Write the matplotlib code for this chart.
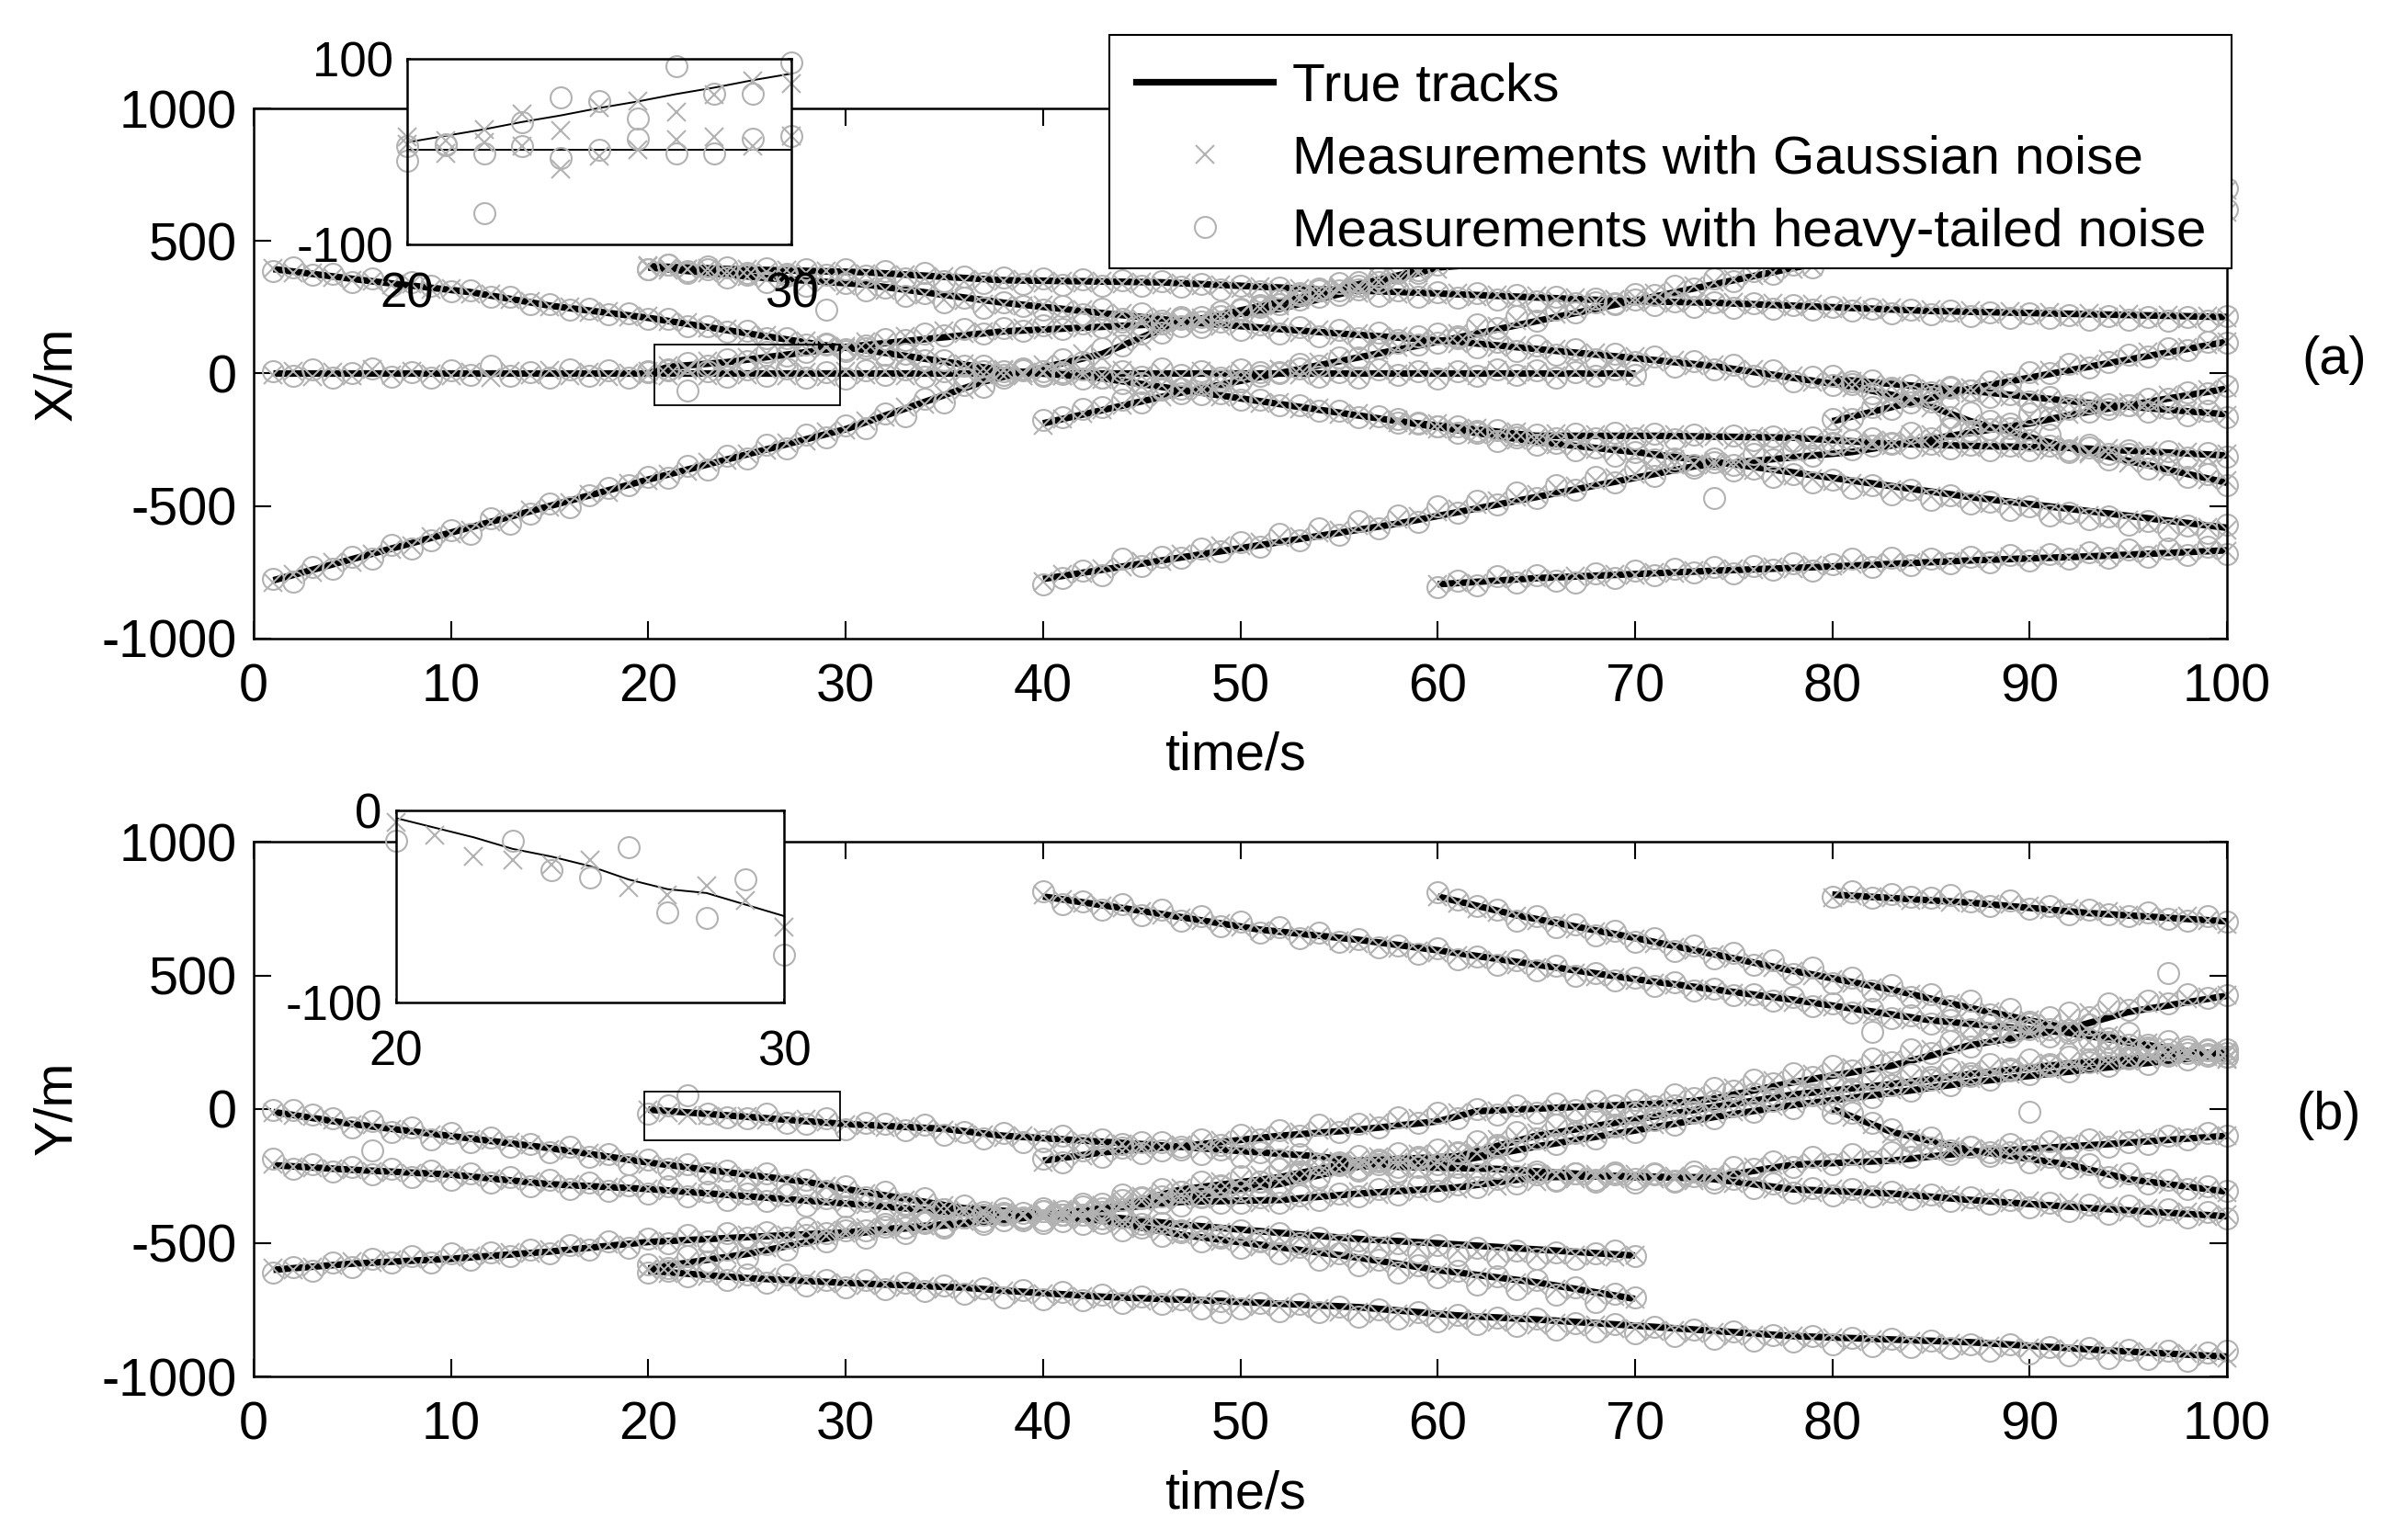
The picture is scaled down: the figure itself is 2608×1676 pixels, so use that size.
import matplotlib
matplotlib.use("Agg")
import matplotlib.pyplot as plt
from matplotlib.lines import Line2D
from matplotlib.patches import Rectangle

# ---- panel (a) true tracks, knots
xt_a = [1,6,11,15,20,23,26,29,31,38,43,48,53,58,65,71,78,83,87,92,100]
xv_a = [394,348,307,256,210,175,140,106,89,12,-18,-72,-126,-180,-235,-235,-242,-265,-273,-280,-309]
xt_b = [1,70]
xv_b = [0,0]
xt_c = [1,10,20,30,37,43,47,52,57,60,100]
xv_c = [-780,-600,-400,-210,-30,74,198,244,336,400,620]
xt_r = [20,24,31,38,46,53,59,69,74,85,100]
xv_r = [405,394,382,352,344,321,305,275,267,236,213]
xt_s = [20,26,31,38,43,48,55,61,70,74,81,84,87,92,100]
xv_s = [400,360,336,267,228,190,151,120,58,28,-49,-96,-180,-280,-412]
xt_u = [20,21,24,27,30,38,47,52,58,62]
xv_u = [0,25,43,71,100,159,190,270,370,440]
xt_p = [40,47,60,70,78,100]
xv_p = [-188,-72,120,275,398,700]
xt_d = [40,50,58,65,73,81,86,90,92,100]
xv_d = [-775,-659,-566,-466,-350,-296,-235,-188,-157,-57]
xt_e = [60,65,74,80,87,93,100]
xv_e = [-795,-772,-744,-728,-705,-690,-667]
xt_f = [80,83,87,92,100]
xv_f = [-180,-127,-57,12,120]
xt_z = [80,87,94,100]
xv_z = [-20,-65,-119,-154]
xt_w = [58,65,70,75,81,87,94,100]
xv_w = [-180,-258,-296,-342,-404,-466,-528,-582]

# ---- panel (a) measurements, one value per second
xg_a = [396,380,381,362,352,350,336,338,318,320,300,300,278,272,250,250,232,234,214,216,195,192,170,168,148,145,122,122,100,102,85,82,62,60,40,38,18,16,2,5,-10,-6,-24,-25,-46,-44,-66,-66,-90,-88,-112,-108,-132,-130,-155,-152,-175,-174,-195,-190,-210,-206,-226,-220,-242,-228,-240,-230,-242,-228,-240,-232,-246,-236,-250,-238,-246,-240,-258,-246,-268,-256,-272,-262,-278,-266,-280,-270,-284,-274,-288,-278,-296,-284,-300,-292,-312,-298,-318,-305]
xh_a = [388,402,372,375,345,358,332,345,330,310,312,290,290,262,262,240,245,222,228,205,205,180,180,158,160,132,135,110,112,92,95,70,74,50,50,28,30,8,12,-4,-2,-20,-14,-35,-35,-55,-56,-78,-76,-100,-98,-120,-120,-142,-142,-165,-162,-186,-184,-200,-198,-216,-214,-232,-230,-244,-226,-246,-225,-244,-228,-248,-232,-470,-235,-252,-236,-255,-240,-262,-250,-272,-260,-280,-265,-284,-268,-290,-272,-288,-272,-298,-278,-305,-288,-312,-292,-318,-300,-312]
xg_b = [-5,8,-12,4,-8,15,-6,10,-3,-9,5,-14,8,-4,11,-8,6,-12,3,9,-7,12,-10,5,-6,14,-9,4,-11,7,-5,10,-8,6,-13,9,-4,12,-7,3,-10,8,-6,13,-9,5,-12,7,-4,10,-8,14,-5,-10,6,-7,11,-3,9,-12,5,-8,13,-6,4,-10,8,-5,10,-7]
xh_b = [8,-10,14,-14,2,18,-12,6,-16,12,-4,30,-10,4,-14,16,-8,12,-15,6,14,-65,10,-12,16,-8,20,-14,6,-18,12,-4,15,-12,8,-16,10,-6,18,-10,4,14,-15,8,-12,20,-6,10,-16,14,-8,6,18,-12,4,-14,16,-6,10,-18,8,-10,14,-4,12,-15,6,-8,16,-5]
xg_c = [-790,-758,-750,-712,-712,-680,-665,-650,-615,-605,-590,-560,-548,-515,-505,-488,-455,-448,-415,-405,-378,-370,-335,-328,-302,-290,-262,-255,-220,-212,-180,-165,-125,-115,-78,-62,-35,-8,0,32,38,75,62,120,122,160,190,210,205,225,245,255,280,292,325,320,345,350,380,395]
xh_c = [-775,-785,-730,-735,-690,-700,-645,-660,-630,-590,-605,-545,-565,-530,-490,-505,-460,-430,-420,-390,-395,-350,-362,-310,-320,-270,-282,-232,-240,-195,-205,-150,-160,-95,-110,-45,-50,-15,15,10,55,45,95,105,150,155,205,195,235,240,258,262,295,290,340,330,362,385,390,410]
xg_r = [408,400,392,398,388,395,382,390,378,388,380,376,368,372,360,364,350,356,348,354,342,350,340,348,338,344,336,340,330,334,322,328,314,322,312,318,304,310,300,308,296,302,290,298,284,292,278,286,272,280,270,276,264,272,262,268,258,264,252,260,246,254,240,248,232,242,228,238,224,234,220,230,214,226,212,222,208,220,206,216,210]
xh_r = [395,412,385,405,400,380,398,375,395,372,392,368,385,360,378,348,365,340,362,338,358,334,355,332,352,330,348,326,338,318,332,310,325,305,322,298,316,294,314,290,308,286,302,278,298,272,290,265,284,262,278,258,272,250,270,248,264,244,258,240,252,236,246,228,240,222,236,218,232,210,226,208,220,204,218,202,214,200,212,198,215]
xg_s = [405,390,392,378,370,366,355,358,340,345,330,328,312,300,298,280,276,262,258,256,258,238,240,222,226,206,212,190,196,178,186,166,175,155,163,145,152,136,142,124,132,114,120,100,105,88,92,72,78,58,64,42,50,28,34,10,14,-10,-8,-32,-30,-55,-58,-88,-90,-130,-145,-188,-192,-228,-232,-268,-272,-305,-305,-338,-338,-370,-372,-402,-405]
xh_s = [395,410,378,395,362,372,345,368,330,240,340,312,325,292,305,270,285,248,268,255,240,255,225,245,205,228,190,212,175,195,165,185,150,175,142,165,135,155,125,142,115,135,100,120,85,105,70,92,55,75,45,65,25,48,15,32,-10,12,-30,-12,-45,-30,-75,-62,-110,-90,-165,-148,-210,-190,-250,-230,-290,-270,-325,-305,-360,-340,-390,-380,-420]
xg_u = [-5,28,20,48,35,62,75,60,92,105,95,120,118,140,135,162,150,158,160,170,165,178,172,186,178,192,180,198,200,225,228,262,262,292,298,330,332,362,365,392]
xh_u = [10,12,40,30,55,48,82,68,80,110,85,105,130,125,150,145,168,150,172,160,182,168,190,175,195,182,200,180,212,215,245,250,278,278,312,312,345,345,378,378]
xg_p = [-195,-170,-150,-138,-118,-100,-88,-65,-55,-38,-20,-10,15,20,45,52,75,88,100,125,135,152,170,180,200,208,225,240,255,280,285,305,315,330,345,355,370,380,395,405]
xh_p = [-175,-165,-135,-125,-100,-110,-62,-75,-40,-25,-30,5,0,35,30,60,62,95,115,110,150,140,185,170,215,200,240,230,268,265,300,295,330,320,360,350,385,375,410,400]
xg_d = [-785,-758,-755,-735,-728,-710,-708,-680,-678,-650,-650,-635,-620,-615,-600,-590,-575,-570,-550,-540,-520,-510,-495,-480,-465,-455,-432,-425,-405,-395,-378,-365,-345,-345,-330,-335,-312,-318,-298,-300,-280,-268,-265,-250,-232,-232,-212,-210,-195,-195,-165,-150,-155,-130,-125,-108,-105,-82,-78,-60,-55]
xh_d = [-795,-770,-745,-760,-700,-725,-690,-695,-660,-670,-635,-655,-605,-630,-585,-610,-555,-585,-535,-560,-500,-525,-480,-495,-450,-470,-420,-440,-390,-410,-360,-385,-335,-345,-320,-345,-305,-325,-285,-310,-265,-285,-245,-265,-225,-245,-205,-218,-180,-205,-150,-172,-135,-145,-115,-120,-95,-95,-70,-75,-48]
xg_e = [-795,-790,-792,-775,-775,-770,-775,-765,-768,-758,-760,-750,-755,-742,-745,-735,-740,-728,-735,-722,-725,-720,-715,-712,-712,-705,-708,-698,-705,-692,-698,-688,-695,-682,-690,-678,-682,-672,-678,-668,-672]
xh_e = [-805,-780,-800,-765,-790,-760,-780,-790,-755,-770,-745,-760,-735,-750,-730,-755,-725,-740,-715,-745,-720,-700,-730,-695,-722,-700,-715,-690,-712,-685,-705,-680,-700,-675,-695,-665,-690,-660,-685,-655,-680]
xg_f = [-185,-160,-140,-120,-100,-82,-70,-55,-45,-25,-10,12,28,35,55,62,80,85,100,110,120]
xh_f = [-170,-170,-125,-135,-85,-105,-50,-65,-30,-40,5,0,38,22,42,70,65,95,90,120,115]
xg_z = [-25,-30,-40,-48,-52,-58,-62,-75,-80,-88,-95,-100,-112,-115,-122,-125,-135,-138,-145,-150,-158]
xh_z = [-10,-40,-25,-55,-45,-72,-55,-65,-90,-78,-105,-90,-120,-108,-132,-120,-145,-130,-158,-142,-165]
xg_w = [-185,-195,-210,-215,-232,-240,-250,-258,-268,-275,-285,-298,-305,-312,-325,-340,-345,-352,-365,-378,-385,-398,-408,-415,-428,-440,-445,-462,-468,-475,-490,-500,-505,-520,-530,-535,-545,-552,-565,-570,-578,-580,-590]
xh_w = [-170,-190,-200,-225,-225,-255,-240,-270,-260,-290,-280,-310,-295,-325,-320,-355,-335,-365,-360,-390,-380,-410,-400,-430,-420,-455,-440,-475,-460,-490,-485,-515,-500,-535,-525,-550,-540,-570,-555,-590,-575,-600,-570]
# the two tracks that run behind the legend only show again at t=100
xg_tail = [690,610]
xh_tail = [700,620]

# ---- panel (b) true tracks
yt_a = [80,87,93,100]
yv_a = [802,772,733,702]
yt_b = [40,45,51,56,60,65,70,78,85,92,100]
yv_b = [795,741,671,633,594,540,486,409,332,285,190]
yt_c = [60,64,70,74,78,83,87,92,96,100]
yv_c = [795,725,640,579,517,447,378,301,239,193]
yt_d = [40,43,47,52,56,60,62,67,72,74,78,83,87,92,95,100]
yv_d = [-193,-162,-139,-100,-77,-46,-8,8,23,39,100,162,239,301,363,424]
yt_e = [20,25,30,35,38,45,51,54,58,63,70,74,78,83,87,94,100]
yv_e = [-2,-29,-56,-74,-100,-131,-162,-177,-216,-224,-255,-255,-208,-193,-162,-131,-100]
yt_f = [1,5,10,15,20,25,30,33,36,38,43,47,52,56,61,65,70,74,78,83,87,92,100]
yv_f = [-601,-578,-560,-533,-497,-479,-461,-443,-425,-405,-378,-301,-255,-193,-177,-100,-39,8,54,93,131,170,216]
yt_g = [40,47,52,56,61,65,70,74,78,83,87,92,100]
yv_g = [-400,-330,-280,-215,-195,-140,-80,-30,15,60,100,140,205]
yt_h = [20,25,30,32,36,40,47,52,56,61,65,70,74,78,83,87,93,100]
yv_h = [-596,-542,-470,-452,-430,-400,-347,-340,-316,-293,-255,-250,-262,-300,-316,-340,-370,-401]
yt_i = [80,83,87,92,95,100]
yv_i = [0,-85,-154,-208,-262,-309]
yt_j = [20,25,30,36,38,43,49,56,61,65,70,78,87,94,100]
yv_j = [-605,-632,-650,-668,-679,-702,-718,-741,-772,-787,-810,-849,-872,-903,-926]
yt_k = [1,5,10,15,20,25,28,30,33,36,40,43,47,52,56,60,65,70]
yv_k = [-11,-56,-101,-146,-200,-245,-272,-299,-335,-371,-390,-401,-432,-463,-486,-502,-525,-548]
yt_l = [1,5,10,15,20,25,30,36,40,43,47,52,56,60,65,70]
yv_l = [-210,-227,-245,-281,-299,-326,-353,-389,-400,-417,-470,-517,-556,-602,-648,-710]

# ---- panel (b) measurements
yg_a = [790,798,795,790,780,785,772,770,768,765,758,745,748,740,738,725,722,715,720,705,690]
yh_a = [795,815,790,805,795,790,800,775,760,780,750,760,730,745,730,720,735,710,705,720,700]
yg_b = [800,785,770,760,752,738,725,715,705,695,680,665,665,650,645,630,620,612,600,590,585,575,560,555,540,530,525,510,495,490,480,470,465,450,445,432,420,410,400,392,380,368,355,345,335,328,318,308,305,295,285,275,258,250,232,228,215,205,205,195,185]
yh_b = [815,765,775,745,765,725,745,705,720,685,700,660,680,640,660,625,635,605,610,580,600,560,570,540,555,520,535,500,510,480,490,460,475,445,450,425,430,405,420,385,395,360,375,340,350,320,335,300,320,290,300,270,285,262,250,240,230,225,225,200,210]
yg_c = [795,770,750,735,722,705,695,675,662,650,635,620,605,595,578,562,550,530,515,500,485,470,455,440,428,410,395,380,365,350,335,320,305,290,275,262,248,235,220,205,190]
yh_c = [810,785,760,745,705,720,680,690,650,665,625,640,590,610,565,585,540,555,505,530,470,490,445,465,420,430,385,405,355,375,325,345,295,315,265,285,240,255,210,225,195]
yg_d = [-200,-185,-175,-165,-158,-148,-142,-135,-125,-118,-110,-100,-95,-85,-78,-70,-62,-52,-42,-35,-25,-15,-10,-8,-2,-5,5,0,12,8,18,25,35,48,62,78,92,105,118,130,142,155,172,185,205,222,240,252,268,285,300,318,340,362,372,385,395,405,412,420,425]
yh_d = [-185,-200,-155,-180,-130,-165,-125,-150,-115,-135,-95,-115,-80,-100,-60,-85,-55,-70,-30,-50,-15,-35,0,-22,15,-15,20,-5,30,15,35,10,55,40,80,70,110,95,135,120,160,145,190,175,225,210,255,235,285,270,320,300,360,345,395,370,405,395,430,415,425]
yg_e = [-5,-13,-24,-25,-28,-26,-40,-44,-39,-47,-60,-62,-68,-65,-72,-78,-88,-95,-105,-100,-108,-112,-120,-125,-130,-135,-142,-138,-150,-155,-160,-165,-172,-178,-182,-195,-205,-215,-218,-222,-218,-225,-228,-232,-238,-240,-248,-252,-255,-250,-258,-255,-262,-258,-245,-232,-218,-210,-205,-200,-195,-190,-182,-175,-165,-158,-155,-150,-148,-142,-140,-135,-130,-125,-118,-112,-110,-105,-102,-100,-98]
yh_e = [-16,15,50,-16,-31,-35,-18,-53,-56,-36,-75,-50,-55,-80,-60,-95,-85,-110,-90,-125,-120,-100,-135,-115,-145,-125,-155,-140,-170,-150,-180,-160,-190,-170,-205,-200,-225,-205,-235,-215,-240,-215,-245,-220,-250,-235,-265,-240,-270,-245,-275,-240,-270,-235,-260,-215,-225,-195,-215,-180,-205,-170,-195,-160,-180,-145,-170,-140,-160,-130,-155,-120,-145,-115,-140,-125,-130,-100,-115,-90,-100]
yg_f = [-595,-600,-590,-585,-570,-575,-565,-560,-565,-552,-550,-545,-535,-540,-525,-520,-515,-505,-510,-490,-495,-480,-490,-475,-470,-468,-470,-455,-455,-450,-445,-440,-432,-435,-420,-418,-410,-395,-400,-388,-380,-378,-360,-335,-325,-310,-295,-282,-270,-262,-248,-240,-225,-215,-195,-190,-180,-182,-170,-165,-150,-135,-115,-100,-90,-75,-65,-50,-35,-25,-12,-2,5,18,28,40,52,62,72,80,92,100,108,118,128,138,145,152,158,165,172,178,188,192,198,205,210,215,212,218]
yh_f = [-610,-590,-605,-575,-590,-560,-575,-550,-575,-540,-565,-535,-550,-525,-540,-510,-525,-495,-520,-485,-500,-470,-495,-465,-480,-460,-480,-445,-465,-440,-455,-430,-445,-420,-435,-405,-420,-390,-410,-380,-395,-365,-370,-320,-335,-300,-310,-270,-285,-250,-270,-225,-240,-205,-210,-175,-195,-165,-185,-150,-165,-120,-140,-85,-110,-60,-85,-35,-60,-15,-30,15,-10,30,15,60,40,75,55,95,75,110,90,130,110,150,125,170,145,185,160,195,175,215,190,225,200,235,205,225]
yg_g = [-405,-390,-378,-370,-360,-345,-332,-322,-315,-305,-295,-285,-270,-260,-240,-222,-215,-205,-200,-198,-192,-178,-165,-155,-138,-125,-115,-105,-92,-80,-70,-58,-48,-32,-22,-12,0,12,22,30,40,52,62,72,85,92,105,112,122,130,140,148,155,165,172,180,185,192,198,202,208]
yh_g = [-415,-380,-395,-355,-375,-330,-350,-310,-330,-290,-305,-270,-290,-235,-255,-205,-230,-190,-215,-180,-205,-160,-180,-135,-155,-110,-130,-90,-110,-65,-85,-40,-60,-15,-35,10,-10,30,5,50,25,70,45,90,70,120,90,135,110,150,130,170,140,185,160,195,170,205,185,220,195]
yg_h = [-600,-585,-570,-555,-548,-530,-520,-500,-490,-475,-465,-458,-450,-445,-438,-425,-420,-410,-405,-395,-385,-375,-368,-360,-350,-345,-342,-340,-338,-332,-335,-350,-332,-342,-320,-330,-310,-318,-300,-310,-290,-300,-275,-290,-258,-270,-245,-262,-245,-260,-243,-262,-250,-268,-255,-280,-270,-300,-292,-312,-298,-318,-305,-325,-315,-335,-322,-348,-335,-352,-345,-368,-352,-378,-365,-385,-372,-395,-385,-402,-395]
yh_h = [-580,-605,-550,-570,-525,-555,-505,-525,-470,-495,-455,-480,-440,-465,-425,-445,-405,-430,-395,-415,-370,-395,-355,-385,-340,-365,-325,-360,-325,-350,-350,-330,-350,-322,-340,-315,-328,-300,-318,-290,-305,-282,-292,-262,-280,-245,-268,-240,-265,-238,-262,-245,-268,-250,-275,-262,-295,-280,-312,-295,-322,-300,-328,-310,-338,-318,-345,-330,-355,-340,-368,-350,-380,-358,-392,-362,-398,-375,-405,-385,-410]
yg_i = [5,-30,-60,-92,-110,-125,-140,-155,-165,-172,-185,-195,-205,-222,-240,-258,-268,-282,-290,-302,-312]
yh_i = [-15,-15,-50,-75,-120,-105,-155,-140,-175,-160,-200,-180,-220,-205,-255,-240,-280,-265,-300,-290,-305]
yg_j = [-598,-615,-610,-625,-620,-635,-628,-645,-640,-652,-650,-660,-655,-668,-662,-672,-672,-685,-680,-695,-690,-702,-700,-712,-708,-718,-712,-725,-720,-735,-730,-740,-738,-745,-745,-760,-758,-768,-768,-780,-775,-790,-785,-798,-795,-808,-802,-815,-808,-822,-820,-832,-828,-840,-835,-848,-845,-852,-850,-860,-855,-868,-862,-875,-870,-880,-875,-888,-885,-892,-895,-902,-898,-908,-905,-912,-908,-918,-915,-925,-930]
yh_j = [-612,-595,-625,-605,-640,-618,-648,-620,-660,-638,-665,-640,-675,-650,-682,-660,-690,-670,-705,-678,-710,-685,-715,-695,-725,-700,-730,-710,-745,-718,-745,-725,-755,-730,-760,-740,-775,-750,-785,-760,-795,-770,-805,-780,-810,-785,-825,-800,-830,-805,-840,-815,-850,-825,-860,-830,-865,-845,-870,-850,-880,-855,-885,-860,-890,-865,-895,-880,-905,-880,-915,-890,-920,-895,-930,-900,-935,-905,-940,-910,-905]
yg_k = [-15,-25,-28,-42,-60,-58,-75,-78,-95,-100,-112,-118,-125,-135,-150,-155,-165,-180,-190,-205,-212,-220,-232,-240,-250,-255,-270,-275,-290,-302,-315,-325,-340,-350,-362,-375,-380,-385,-392,-395,-402,-405,-412,-420,-432,-438,-445,-450,-460,-468,-472,-480,-485,-492,-498,-505,-510,-515,-520,-525,-528,-532,-538,-540,-545,-548,-545,-550,-552,-548]
yh_k = [-5,-2,-22,-35,-70,-45,-85,-70,-115,-90,-125,-105,-140,-130,-160,-140,-180,-170,-205,-190,-225,-205,-240,-230,-265,-240,-285,-265,-305,-290,-330,-310,-355,-335,-375,-360,-395,-370,-405,-380,-420,-395,-425,-405,-445,-425,-460,-440,-475,-455,-490,-465,-500,-480,-510,-490,-520,-500,-535,-510,-545,-520,-555,-530,-560,-535,-560,-540,-530,-550]
yg_l = [-205,-215,-220,-222,-228,-232,-238,-242,-240,-248,-255,-262,-268,-272,-280,-282,-290,-292,-295,-298,-305,-310,-315,-318,-325,-330,-332,-340,-345,-352,-358,-362,-370,-378,-385,-390,-392,-395,-398,-402,-408,-415,-425,-440,-448,-460,-470,-482,-495,-505,-515,-525,-535,-545,-555,-565,-578,-590,-600,-610,-620,-630,-640,-650,-660,-672,-680,-695,-700,-712]
yh_l = [-185,-225,-205,-235,-215,-245,-225,-255,-230,-265,-240,-275,-255,-290,-265,-300,-275,-305,-285,-315,-290,-325,-310,-340,-315,-345,-320,-360,-335,-365,-345,-375,-360,-395,-375,-405,-385,-415,-390,-425,-395,-430,-410,-455,-430,-475,-455,-495,-480,-520,-495,-540,-515,-565,-540,-585,-565,-610,-585,-630,-605,-655,-625,-675,-640,-695,-665,-720,-690,-705]
# stray heavy-tailed points in panel (b)
yo_t = [6,49,82,90,97]
yo_v = [-155,-760,287,-10,510]

# ---- inset (a), t=20..30
ia_t = [20,21,22,23,24,25,26,27,28,29,30]
ia_line1 = [10,17,24,32,39,47,54,62,69,77,84]
ia_line2 = [2,2,2,2,2,2,2,2,2,2,2]
ia_g1 = [16,12,24,41,23,48,54,43,61,76,73]
ia_g2 = [8,-2,10,6,-19,-5,2,13,16,6,17]
ia_h1 = [6,8,-2,32,58,54,36,92,62,62,96]
ia_h2 = [-10,7,-66,6,-7,2,14,-2,-2,14,17]

# ---- inset (b), t=20..30
ib_t = [20,21,22,23,24,25,26,27,28,29,30]
ib_line = [-4,-9,-14,-20,-24,-29,-36,-41,-43,-49,-55]
ib_g = [-6,-13,-24,-26,-28,-26,-40,-44,-39,-47,-61]
ib_ht = [20,23,24,25,26,27,28,29,30]
ib_h = [-16,-16,-31,-35,-19,-53,-56,-36,-75]

x_tracks = [(xt_a,xv_a),(xt_b,xv_b),(xt_c,xv_c),(xt_r,xv_r),(xt_s,xv_s),(xt_u,xv_u),(xt_p,xv_p),(xt_d,xv_d),(xt_e,xv_e),(xt_f,xv_f),(xt_z,xv_z),(xt_w,xv_w)]
x_meas = [(1,xg_a,xh_a),(1,xg_b,xh_b),(1,xg_c,xh_c),(20,xg_r,xh_r),(20,xg_s,xh_s),(20,xg_u,xh_u),(40,xg_p,xh_p),(40,xg_d,xh_d),(60,xg_e,xh_e),(80,xg_f,xh_f),(80,xg_z,xh_z),(58,xg_w,xh_w),(100,xg_tail[:1],xh_tail[:1]),(100,xg_tail[1:],xh_tail[1:])]
y_tracks = [(yt_a,yv_a),(yt_b,yv_b),(yt_c,yv_c),(yt_d,yv_d),(yt_e,yv_e),(yt_f,yv_f),(yt_g,yv_g),(yt_h,yv_h),(yt_i,yv_i),(yt_j,yv_j),(yt_k,yv_k),(yt_l,yv_l)]
y_meas = [(80,yg_a,yh_a),(40,yg_b,yh_b),(60,yg_c,yh_c),(40,yg_d,yh_d),(20,yg_e,yh_e),(1,yg_f,yh_f),(40,yg_g,yh_g),(20,yg_h,yh_h),(80,yg_i,yh_i),(20,yg_j,yh_j),(1,yg_k,yh_k),(1,yg_l,yh_l)]

plt.rcParams['font.family'] = ['Liberation Sans', 'DejaVu Sans']
plt.rcParams['axes.unicode_minus'] = False
W, H = 2608, 1676
GRAY = '#b2b2b2'
FS = 41.5
TRACK_LW = 5.2


def box(left, top, right, bottom):
    return [left / W, 1 - bottom / H, (right - left) / W, (bottom - top) / H]


def gauss_marks(ax, t, v, clip=True):
    ax.plot(t, v, linestyle='None', marker='x', color=GRAY, ms=14, mew=1.5, clip_on=clip)


def heavy_marks(ax, t, v, clip=True):
    ax.plot(t, v, linestyle='None', marker='o', mfc='none', mec=GRAY, ms=16.5, mew=1.5, clip_on=clip)


def main_panel(rect, tracks, meas):
    ax = fig.add_axes(box(*rect))
    for t, v in tracks:
        ax.plot(t, v, color='k', lw=TRACK_LW, solid_capstyle='butt')
    for start, g, h in meas:
        gauss_marks(ax, range(start, start + len(g)), g, clip=False)
        heavy_marks(ax, range(start, start + len(h)), h, clip=False)
    ax.set_xlim(0, 100)
    ax.set_ylim(-1000, 1000)
    ax.set_xticks(range(0, 101, 10))
    ax.set_yticks([-1000, -500, 0, 500, 1000])
    ax.tick_params(labelsize=FS, direction='in', length=13.5, width=1.5, top=True, right=True)
    ax.tick_params(axis='x', pad=19)
    ax.tick_params(axis='y', pad=13)
    for s in ax.spines.values():
        s.set_linewidth(1.8)
    return ax


def inset(rect, xticks, yticks, ylim):
    ax = fig.add_axes(box(*rect), zorder=5)
    ax.set_xlim(20, 30)
    ax.set_ylim(*ylim)
    ax.set_xticks(xticks)
    ax.set_yticks(yticks)
    ax.tick_params(labelsize=38, direction='in', length=3, width=1.2, top=True, right=True)
    ax.tick_params(axis='x', pad=21)
    ax.tick_params(axis='y', pad=11)
    for s in ax.spines.values():
        s.set_linewidth(1.8)
    return ax


fig = plt.figure(figsize=(W / 100, H / 100), dpi=100)

# panel a
ax1 = main_panel((276, 118, 2423, 695), x_tracks, x_meas)
ax1.add_patch(Rectangle((20.3, -119), 9.4, 228, fill=False, ec='k', lw=1.3, zorder=6))

# panel b
ax2 = main_panel((276, 916, 2423, 1498), y_tracks, y_meas)
heavy_marks(ax2, yo_t, yo_v)
ax2.add_patch(Rectangle((19.8, -117), 9.9, 184, fill=False, ec='k', lw=1.3, zorder=6))

# insets
ia = inset((443, 64, 861, 266), [20, 30], [-100, 100], (-100, 100))
ia.plot(ia_t, ia_line1, color='k', lw=1.4)
ia.plot(ia_t, ia_line2, color='k', lw=1.4)
gauss_marks(ia, ia_t, ia_g1, clip=False)
gauss_marks(ia, ia_t, ia_g2, clip=False)
heavy_marks(ia, ia_t, ia_h1, clip=False)
heavy_marks(ia, ia_t, ia_h2, clip=False)

ib = inset((431, 882, 853, 1091), [20, 30], [-100, 0], (-100, 0))
ib.plot(ib_t, ib_line, color='k', lw=1.4)
gauss_marks(ib, ib_t, ib_g, clip=False)
heavy_marks(ib, ib_ht, ib_h, clip=False)

# labels
fig.text(62 / W, 1 - 407 / H, 'X/m', fontsize=FS, rotation=90, ha='center', va='center')
fig.text(62 / W, 1 - 1206 / H, 'Y/m', fontsize=FS, rotation=90, ha='center', va='center')
fig.text(1344 / W, 1 - 822 / H, 'time/s', fontsize=FS, ha='center', va='center')
fig.text(1344 / W, 1 - 1626 / H, 'time/s', fontsize=FS, ha='center', va='center')
fig.text(2540 / W, 1 - 392 / H, '(a)', fontsize=FS, ha='center', va='center')
fig.text(2534 / W, 1 - 1214 / H, '(b)', fontsize=FS, ha='center', va='center')

# legend, the frame is drawn apart so it gets the exact size of the original box
frame = Rectangle((1207 / W, 1 - 292 / H), 1221 / W, 254 / H, transform=fig.transFigure,
                  fc='white', ec='k', lw=1.5, zorder=9)
fig.add_artist(frame)
handles = [Line2D([], [], color='k', lw=TRACK_LW),
           Line2D([], [], linestyle='None', marker='x', color=GRAY, ms=14, mew=1.5),
           Line2D([], [], linestyle='None', marker='o', mfc='none', mec=GRAY, ms=16.5, mew=1.5)]
labels = ['True tracks', 'Measurements with Gaussian noise', 'Measurements with heavy-tailed noise']
leg = fig.legend(handles, labels, loc='upper left', bbox_to_anchor=(1207 / W, 1 - 38 / H), borderaxespad=0,
                 fontsize=42.1, frameon=False, handlelength=2.55,
                 borderpad=0.5, handletextpad=0.35, labelspacing=0.43)
leg.set_zorder(10)

fig.savefig('out.png', dpi=100)
